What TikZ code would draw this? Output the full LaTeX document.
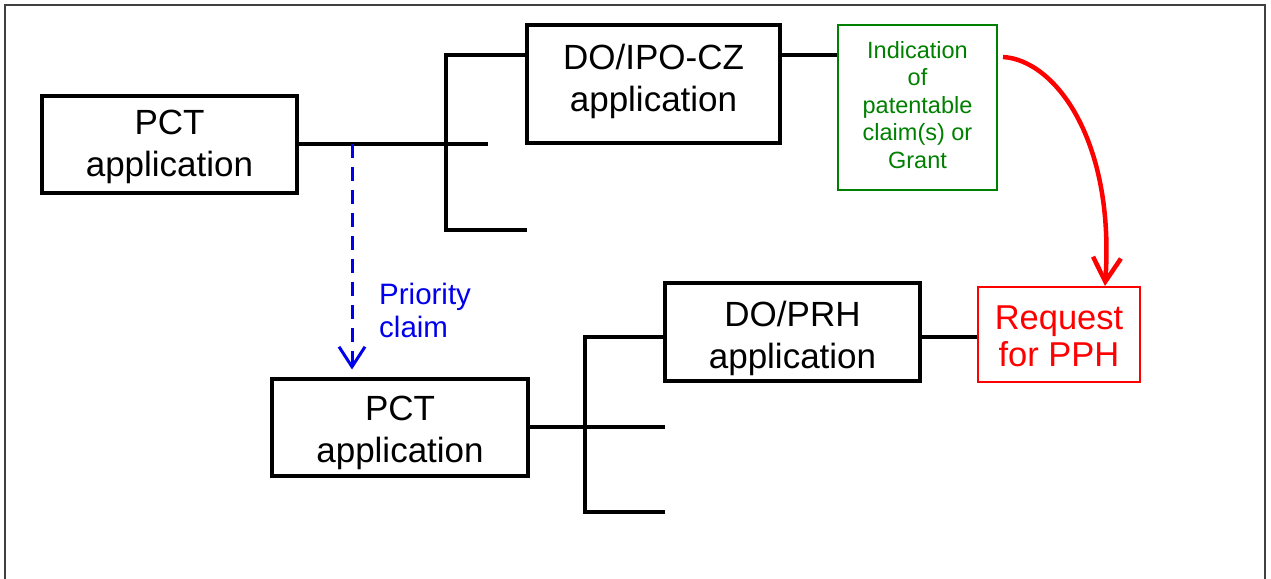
\documentclass[tikz,border=0pt]{standalone}
\usepackage{fontspec}
\setmainfont{Liberation Sans}
\usetikzlibrary{arrows.meta}
\definecolor{cgreen}{RGB}{0,128,0}
\definecolor{cred}{RGB}{255,0,0}
\definecolor{cblue}{RGB}{0,0,235}
\begin{document}
\begin{tikzpicture}[x=1pt,y=-1pt,
  appbox/.style={draw=black, line width=4pt, inner sep=0pt},
  apptext/.style={inner sep=0pt, align=center, font=\fontsize{35}{42}\selectfont},
  greenbox/.style={draw=cgreen, line width=2pt, inner sep=0pt},
  greentext/.style={inner sep=0pt, align=center, text=cgreen, font=\fontsize{23.5}{27.5}\selectfont},
  redbox/.style={draw=cred, line width=2pt, inner sep=0pt},
  redtext/.style={inner sep=0pt, align=center, text=cred, font=\fontsize{34.5}{37}\selectfont},
  conn/.style={draw=black, line width=4pt},
  prio/.style={draw=cblue, line width=3pt, dash pattern=on 14pt off 9pt,
    -{Straight Barb[length=20pt,width=26pt,line width=3pt]}},
  pph/.style={draw=cred, line width=4.5pt,
    -{Straight Barb[length=24pt,width=28pt,line width=4.5pt]}},
  frame/.style={draw=black!75, line width=1.5pt}
]
\useasboundingbox (0,0) rectangle (1271,578);
\draw[frame] (5,590) -- (5,5) -- (1265,5) -- (1265,590);

% nodes
\node[appbox, minimum width=255pt, minimum height=97pt,
  label={[apptext, yshift=-3pt]center:{PCT\\application}}] (pct1) at (169.5,144) {};
\node[appbox, minimum width=253pt, minimum height=118pt,
  label={[apptext, yshift=3pt]center:{DO/IPO-CZ\\application}}] (doipo) at (653.5,84) {};
\node[greenbox, minimum width=159pt, minimum height=165pt,
  label={[greentext, yshift=2.5pt]center:{Indication\\of\\patentable\\claim(s) or\\Grant}}] (grant) at (917.5,107.5) {};
\node[appbox, minimum width=256pt, minimum height=97pt,
  label={[apptext, yshift=-6pt]center:{PCT\\application}}] (pct2) at (400,427) {};
\node[appbox, minimum width=255pt, minimum height=98pt,
  label={[apptext, yshift=-6pt]center:{DO/PRH\\application}}] (doprh) at (792.5,332) {};
\node[redbox, minimum width=162pt, minimum height=95pt,
  label={[redtext, yshift=-2pt]center:{Request\\for PPH}}] (req) at (1059,334.5) {};
\node[anchor=north west, inner sep=0pt, align=left, text=cblue,
  font=\fontsize{29.5}{33}\selectfont] (prtext) at (379,283) {Priority\\claim};

% junction coordinates
\coordinate (j1t) at (446,55);
\coordinate (j1b) at (446,230);
\coordinate (e1b) at (527,230);
\coordinate (e1m) at (488,144);
\coordinate (pd) at (352,144);
\coordinate (j2t) at (585,337);
\coordinate (j2b) at (585,512);
\coordinate (e2b) at (665,512);
\coordinate (e2m) at (665,427);
\coordinate (r0) at (1003,57);

% upper tree
\draw[conn] (pct1.east) -- (e1m);
\draw[conn] (doipo.west |- j1t) -- (j1t) -- (j1b) -- (e1b);
\draw[conn] (doipo.east |- j1t) -- (grant.west |- j1t);

% lower tree
\draw[conn] (pct2.east) -- (e2m);
\draw[conn] (doprh.west |- j2t) -- (j2t) -- (j2b) -- (e2b);
\draw[conn] (doprh.east |- j2t) -- (req.west |- j2t);

% priority arrow
\draw[prio, shorten >=7pt] (pd) -- (pct2.north -| pd);

% PPH arrow
\draw[pph] (r0) .. controls (1055,60) and (1115,140) .. ([xshift=46pt]req.north);
\end{tikzpicture}
\end{document}
